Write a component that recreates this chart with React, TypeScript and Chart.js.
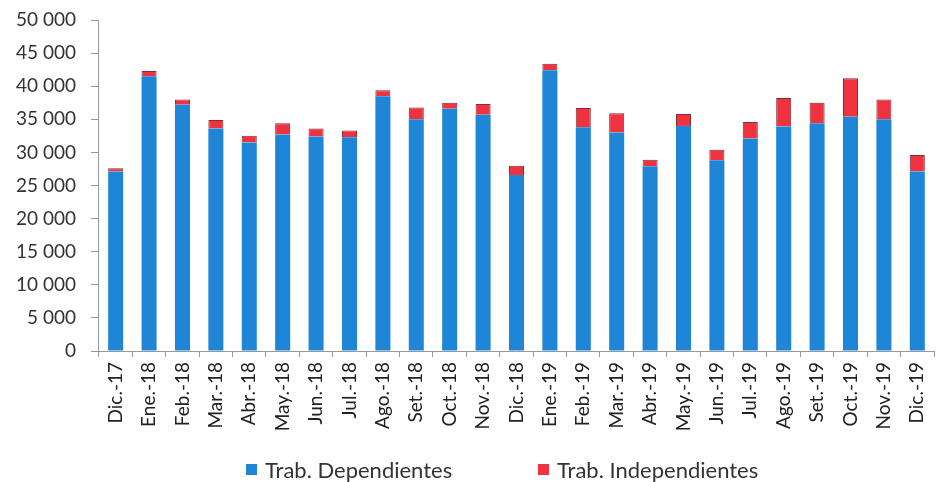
import React, { useEffect, useRef } from "react";
import { Chart, registerables } from "chart.js";

Chart.register(...registerables);

const categories = [
  "Dic.-17", "Ene.-18", "Feb.-18", "Mar.-18", "Abr.-18", "May.-18", "Jun.-18",
  "Jul.-18", "Ago.-18", "Set.-18", "Oct.-18", "Nov.-18", "Dic.-18", "Ene.-19",
  "Feb.-19", "Mar.-19", "Abr.-19", "May.-19", "Jun.-19", "Jul.-19", "Ago.-19",
  "Set.-19", "Oct.-19", "Nov.-19", "Dic.-19",
];

const dependientes = [
  27100, 41500, 37200, 33600, 31500, 32700, 32400, 32300, 38500, 35000, 36600,
  35700, 26600, 42400, 33800, 33000, 27900, 34000, 28800, 32100, 33900, 34400,
  35400, 35000, 27100,
];

const independientes = [
  500, 800, 800, 1300, 1000, 1700, 1200, 1000, 900, 1800, 900, 1600, 1400,
  1000, 2900, 2900, 1000, 1800, 1600, 2500, 4300, 3100, 5800, 3000, 2500,
];

const seriesNames = ["Trab. Dependientes", "Trab. Independientes"];
const seriesColors = ["#1f85d6", "#ee323f"];

const yTicks = [0, 5000, 10000, 15000, 20000, 25000, 30000, 35000, 40000, 45000, 50000];

const fmt = (v: number) => String(v).replace(/\B(?=(\d{3})+(?!\d))/g, " ");

const FONT = "Lato, 'Open Sans', sans-serif";

export default function App() {
  const ref = useRef<HTMLCanvasElement | null>(null);

  useEffect(() => {
    if (!ref.current) return;
    const chart = new Chart(ref.current, {
      type: "bar",
      data: {
        labels: categories,
        datasets: [
          {
            label: seriesNames[0],
            data: dependientes,
            backgroundColor: seriesColors[0],
            borderWidth: 0,
          },
          {
            label: seriesNames[1],
            data: independientes,
            backgroundColor: seriesColors[1],
            borderColor: "#8a2a32",
            borderWidth: 1,
          },
        ],
      },
      options: {
        animation: false,
        responsive: false,
        maintainAspectRatio: false,
        layout: { padding: { left: 1, right: 4, top: 20, bottom: 51 } },
        datasets: {
          bar: { categoryPercentage: 1, barPercentage: 0.45 },
        },
        plugins: {
          tooltip: { enabled: false },
          legend: { display: false },
        },
        scales: {
          x: {
            stacked: true,
            afterFit: (axis: any) => {
              axis.height = 80;
              axis.paddingLeft = 0;
              axis.paddingRight = 0;
            },
            grid: {
              drawOnChartArea: false,
              drawTicks: true,
              tickLength: 6,
              color: "#999",
              offset: true,
            },
            border: { color: "#999" },
            ticks: {
              font: { family: FONT, size: 19 },
              color: "#222",
              minRotation: 90,
              maxRotation: 90,
              autoSkip: false,
              padding: 5,
            },
          },
          y: {
            stacked: true,
            min: 0,
            max: 50000,
            afterBuildTicks: (axis: any) => {
              axis.ticks = yTicks.map((v) => ({ value: v }));
            },
            afterFit: (axis: any) => {
              axis.paddingTop = 0;
              axis.paddingBottom = 0;
            },
            grid: {
              drawOnChartArea: false,
              drawTicks: true,
              tickLength: 8,
              color: "#999",
            },
            border: { color: "#999" },
            ticks: {
              font: { family: FONT, size: 19 },
              color: "#333",
              padding: 15,
              callback: (v: any) => fmt(Number(v)),
            },
          },
        },
      },
    });
    return () => chart.destroy();
  }, []);

  const legendItem = (i: number, left: number, gap: number) => (
    <div
      key={i}
      style={{
        position: "absolute",
        left,
        top: 456,
        height: 26,
        display: "flex",
        alignItems: "center",
        fontFamily: FONT,
        fontSize: 22,
        color: "#333",
        whiteSpace: "nowrap",
      }}
    >
      <span style={{ display: "inline-block", width: 11, height: 11, background: seriesColors[i], marginRight: gap }} />
      <span>{seriesNames[i]}</span>
    </div>
  );

  return (
    <div style={{ position: "absolute", left: 0, top: 0, width: 938, height: 482, background: "#fff" }}>
      <canvas ref={ref} width={938} height={482} style={{ width: 938, height: 482, display: "block" }} />
      {legendItem(0, 246, 8)}
      {legendItem(1, 538, 8)}
    </div>
  );
}
